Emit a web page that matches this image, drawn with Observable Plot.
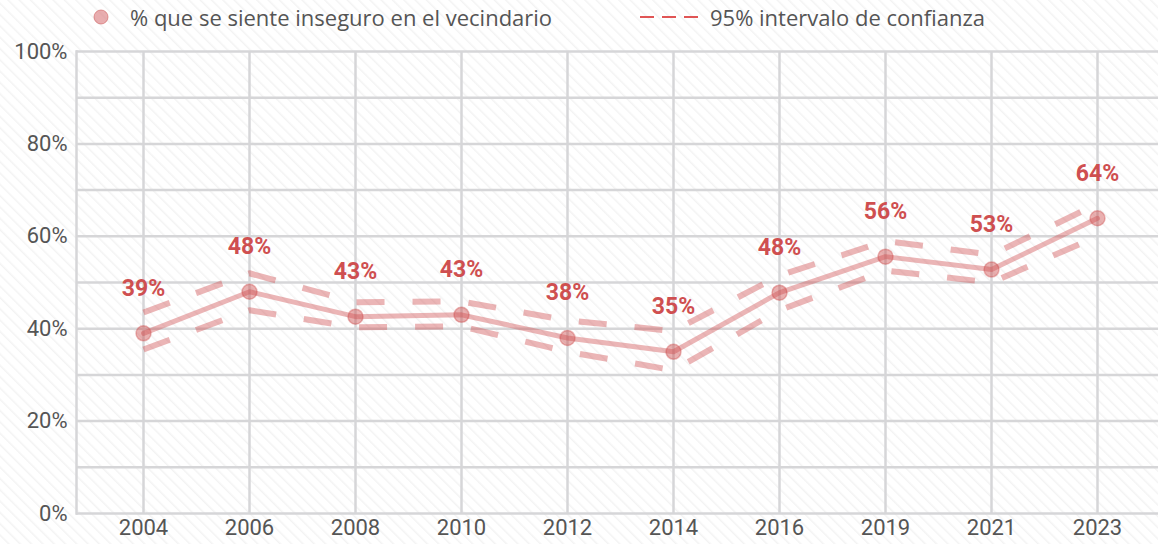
<!DOCTYPE html>
<html><head><meta charset="utf-8">
<script src="https://cdn.jsdelivr.net/npm/d3@7"></script>
<script src="https://cdn.jsdelivr.net/npm/@observablehq/plot@0.6"></script>
<style>
body{margin:0;overflow:hidden;background:#fff;}
#wrap{position:relative;width:1158px;height:544px;overflow:hidden;
  background:repeating-linear-gradient(45deg,#ffffff 0px,#ffffff 5px,#f3f3f3 6px,#ffffff 8px);}
#legend{position:absolute;left:0;top:0;width:1158px;height:36px;font-family:"Open Sans",sans-serif;font-size:22px;color:#555;font-weight:400;}
#legend .item{position:absolute;top:3px;display:flex;align-items:center;height:28px;}
#chart{position:absolute;left:0;top:0;}
svg text{font-family:Roboto,sans-serif;}
</style></head><body>
<div id="wrap">
<div id="chart"></div>
<div id="legend">
  <div class="item" style="left:93px"><svg width="18" height="18"><circle cx="8" cy="9" r="7" fill="#d9777a" fill-opacity="0.6" stroke="#d06060" stroke-opacity="0.6"/></svg><span style="margin-left:19px">% que se siente inseguro en el vecindario</span></div>
  <div class="item" style="left:638px"><svg width="64" height="18"><line x1="2" y1="9" x2="62" y2="9" stroke="#e05555" stroke-width="2" stroke-dasharray="14,8"/></svg><span style="margin-left:8px">95% intervalo de confianza</span></div>
</div>
</div>
<script>
const years = ["2004","2006","2008","2010","2012","2014","2016","2019","2021","2023"];
const values = [39, 48, 42.6, 43, 38, 35, 47.8, 55.6, 52.8, 63.9];
const upper = [43.5, 52, 45.7, 45.9, 41.8, 39.5, 51.5, 59, 56, 67];
const lower = [35.5, 44, 40.3, 40.5, 35, 31, 44, 52.6, 50, 60];
const labels = ["39%","48%","43%","43%","38%","35%","48%","56%","53%","64%"];
const yTicks = [0, 20, 40, 60, 80, 100];
const gridY = [0, 10, 20, 30, 40, 50, 60, 70, 80, 90, 100];

const data = years.map((year, i) => ({year, value: values[i], upper: upper[i], lower: lower[i], label: labels[i]}));
const red = "#cf4f50";
const grid = "#d6d6d8";

const chart = Plot.plot({
  width: 1158,
  height: 544,
  marginTop: 51,
  marginBottom: 31,
  marginLeft: 76,
  marginRight: 0,
  style: {background: "transparent", fontFamily: "Roboto, sans-serif"},
  x: {type: "point", domain: years, padding: 0.6, range: [76, 1163], label: null},
  y: {domain: [0, 100], label: null},
  marks: [
    Plot.ruleY(gridY, {stroke: grid, strokeWidth: 2.5}),
    Plot.ruleX(years, {x: d => d, stroke: grid, strokeWidth: 2.5}),
    Plot.frame({anchor: "left", stroke: grid, strokeWidth: 2.5}),
    Plot.axisX({tickSize: 0, tickPadding: 6, fontSize: 22, fill: "#555", fontWeight: 400}),
    Plot.axisY({ticks: yTicks, tickSize: 0, tickPadding: 9, tickFormat: d => d + "%", fontSize: 22, fill: "#555"}),
    Plot.line(data, {x: "year", y: "upper", stroke: red, strokeOpacity: 0.42, strokeWidth: 6, strokeDasharray: "28,28", strokeLinecap: "butt"}),
    Plot.line(data, {x: "year", y: "lower", stroke: red, strokeOpacity: 0.42, strokeWidth: 6, strokeDasharray: "28,28", strokeLinecap: "butt"}),
    Plot.line(data, {x: "year", y: "value", stroke: red, strokeOpacity: 0.42, strokeWidth: 5}),
    Plot.dot(data, {x: "year", y: "value", r: 7.5, fill: red, fillOpacity: 0.45, stroke: red, strokeOpacity: 0.4, strokeWidth: 1.5}),
    Plot.text(data, {x: "year", y: "value", text: "label", dy: -45, fill: red, fontSize: 23, fontWeight: 700})
  ]
});
document.getElementById("chart").appendChild(chart);
</script>
</body></html>
